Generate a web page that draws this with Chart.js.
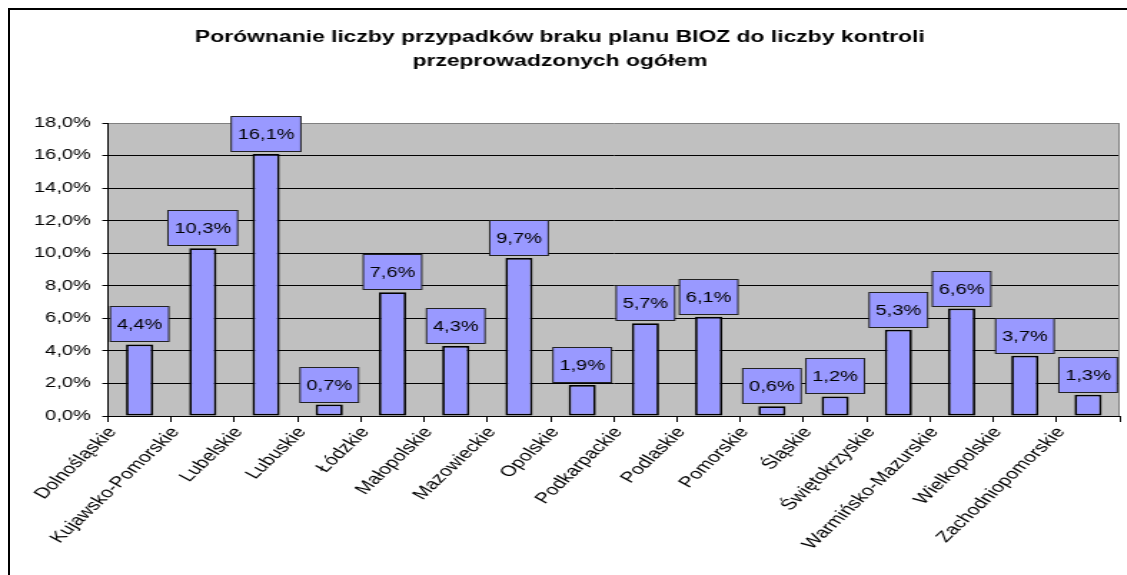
<!DOCTYPE html>
<html>
<head>
<meta charset="utf-8">
<script src="https://cdn.jsdelivr.net/npm/chart.js@4"></script>
<style>
    html, body { margin: 0; padding: 0; background: #fff; overflow: hidden; width: 1127px; height: 575px; }
    #frame {
        position: absolute; left: 8px; top: 8px;
        width: 1200px; height: 700px;
        border-left: 2px solid #000; border-top: 2px solid #000;
    }
    /* oryginał jest rozciągnięty w poziomie, więc tak samo skalujemy płótno */
    #chart {
        position: absolute; left: 0; top: 0;
        transform: scaleX(1.43);
        transform-origin: 0 0;
    }
</style>
</head>
<body>
<div id="frame"></div>
<canvas id="chart" width="805" height="575"></canvas>
<script>
// Dane z wykresu
const wojewodztwa = [
    "Dolnośląskie", "Kujawsko-Pomorskie", "Lubelskie", "Lubuskie",
    "Łódzkie", "Małopolskie", "Mazowieckie", "Opolskie",
    "Podkarpackie", "Podlaskie", "Pomorskie", "Śląskie",
    "Świętokrzyskie", "Warmińsko-Mazurskie", "Wielkopolskie", "Zachodniopomorskie",
];
const udzialBrakuBIOZ = [4.4, 10.3, 16.1, 0.7, 7.6, 4.3, 9.7, 1.9, 5.7, 6.1, 0.6, 1.2, 5.3, 6.6, 3.7, 1.3];
const tytul = [
    "Porównanie liczby przypadków braku planu BIOZ do liczby kontroli",
    "przeprowadzonych ogółem",
];
const osY = { min: 0, max: 18, krok: 2 };

const FONT = "'Liberation Sans', Arial, sans-serif";

function procent(v) {
    return v.toFixed(1).replace(".", ",") + "%";
}

// Tło obszaru wykresu, ramka i etykiety danych
const wyglad = {
    id: "wyglad",
    beforeDraw(chart) {
        const { ctx, chartArea: a } = chart;
        ctx.save();
        ctx.fillStyle = "#c0c0c0";
        ctx.fillRect(a.left, a.top, a.right - a.left, a.bottom - a.top);
        ctx.restore();
    },
    beforeDatasetsDraw(chart) {
        const { ctx, chartArea: a } = chart;
        ctx.save();
        ctx.strokeStyle = "#808080";
        ctx.lineWidth = 1;
        ctx.beginPath();
        ctx.moveTo(a.right - 0.5, a.top);
        ctx.lineTo(a.right - 0.5, a.bottom);
        ctx.stroke();
        ctx.restore();
    },
    afterDatasetsDraw(chart) {
        const { ctx } = chart;
        const meta = chart.getDatasetMeta(0);
        ctx.save();
        ctx.font = "14px " + FONT;
        ctx.textAlign = "center";
        ctx.textBaseline = "middle";
        meta.data.forEach((bar, i) => {
            const txt = procent(udzialBrakuBIOZ[i]);
            const w = ctx.measureText(txt).width + 9;
            const h = 35;
            const x = bar.x - w / 2;
            const y = Math.round(bar.y - 3 - h) + 0.5;
            ctx.fillStyle = "#9999ff";
            ctx.fillRect(x, y, w, h);
            ctx.strokeStyle = "#222222";
            ctx.lineWidth = 1;
            ctx.strokeRect(x, y, w, h);
            ctx.fillStyle = "#000";
            ctx.fillText(txt, bar.x, y + h / 2 + 1);
        });
        ctx.restore();
    },
};

document.addEventListener("DOMContentLoaded", function () {
    const ctx = document.getElementById("chart").getContext("2d");
    new Chart(ctx, {
        type: "bar",
        data: {
            labels: wojewodztwa,
            datasets: [
                {
                    data: udzialBrakuBIOZ,
                    backgroundColor: "#9999ff",
                    borderColor: "#000",
                    borderWidth: 1.75,
                    borderSkipped: false,
                    barPercentage: 0.43,
                    categoryPercentage: 1,
                },
            ],
        },
        options: {
            responsive: false,
            animation: false,
            devicePixelRatio: 1,
            layout: { padding: { left: 0, right: 22, top: 0, bottom: 0 } },
            plugins: {
                legend: { display: false },
                tooltip: { enabled: false },
                title: {
                    display: true,
                    text: tytul,
                    color: "#000",
                    font: { family: FONT, size: 16, weight: "bold", lineHeight: 1.5 },
                    padding: { top: 26, bottom: 49 },
                },
            },
            scales: {
                x: {
                    grid: {
                        offset: true,
                        drawOnChartArea: false,
                        tickLength: 6,
                        tickColor: "#000",
                    },
                    border: { color: "#000", width: 1 },
                    ticks: {
                        autoSkip: false,
                        maxRotation: 53,
                        minRotation: 53,
                        color: "#000",
                        font: { family: FONT, size: 15 },
                        padding: 2,
                        labelOffset: -19,
                    },
                    afterFit(scale) {
                        scale.height = 159;
                    },
                },
                y: {
                    min: osY.min,
                    max: osY.max,
                    grid: {
                        color: (c) => (c.tick && c.tick.value === osY.max ? "#808080" : "#000"),
                        tickLength: 4,
                        tickColor: "#000",
                    },
                    border: { color: "#000", width: 1 },
                    ticks: {
                        stepSize: osY.krok,
                        color: "#000",
                        font: { family: FONT, size: 14 },
                        padding: 8,
                        callback: (v) => procent(v),
                    },
                    afterFit(scale) {
                        scale.width = 75.5;
                    },
                },
            },
        },
        plugins: [wyglad],
    });
});
</script>
</body>
</html>
